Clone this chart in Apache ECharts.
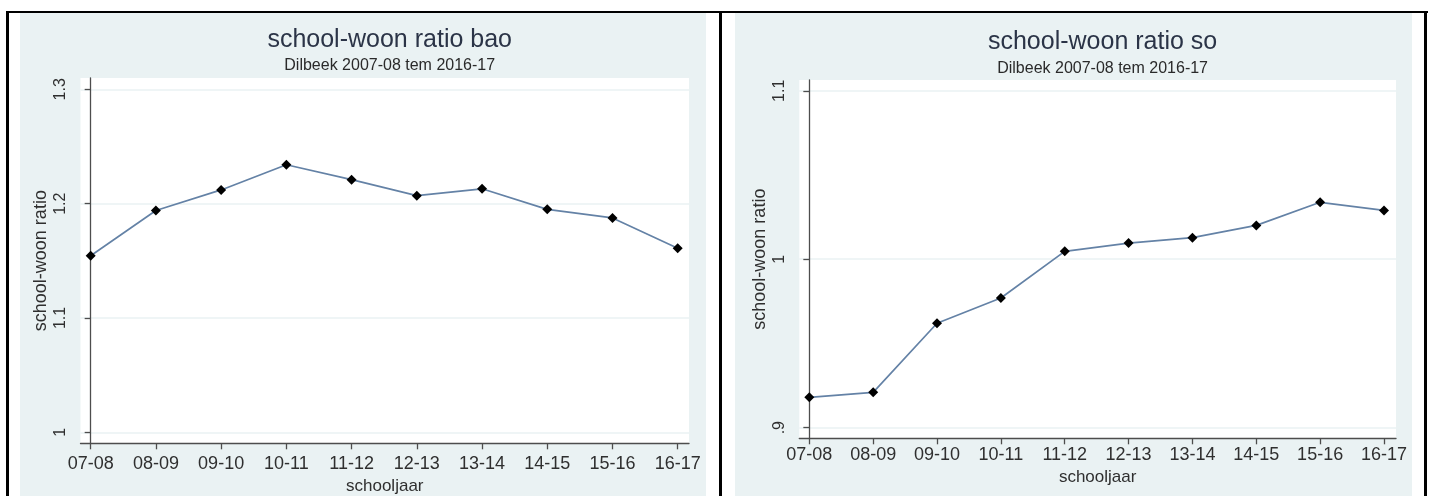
<!DOCTYPE html>
<html>
<head>
<meta charset="utf-8">
<script src="https://cdn.jsdelivr.net/npm/echarts@6/dist/echarts.min.js"></script>
<style>
html,body{margin:0;padding:0;background:#fff;}
#chart{width:1432px;height:496px;}
</style>
</head>
<body>
<div id="chart"></div>
<script>
// ---- data ----
const categories = ['07-08','08-09','09-10','10-11','11-12','12-13','13-14','14-15','15-16','16-17'];
const baoValues = [1.1545, 1.194, 1.212, 1.234, 1.221, 1.207, 1.213, 1.195, 1.1875, 1.161];
const soValues  = [0.918, 0.921, 0.962, 0.977, 1.0047, 1.0096, 1.0128, 1.0201, 1.0338, 1.029];
const baoTicks = [1, 1.1, 1.2, 1.3];
const baoTickLabels = ['1', '1.1', '1.2', '1.3'];
const soTicks = [0.9, 1, 1.1];
const soTickLabels = ['.9', '1', '1.1'];
const catIndex = categories.map((c, i) => i);

const FONT = '"Liberation Sans", Arial, sans-serif';
const PANEL_BG = '#eaf2f3';
const AXIS_COL = '#4d4d4d';
const TEXT_COL = '#2f2f2f';
const LINE_COL = '#6482a6';

function tickLabel(ticks, labels) {
  return v => {
    const k = ticks.findIndex(t => Math.abs(t - v) < 1e-6);
    return k >= 0 ? labels[k] : '';
  };
}

function xAxis(gridIndex, min, max, margin, nameGap) {
  return {
    type: 'value', gridIndex, min, max,
    name: 'schooljaar', nameLocation: 'middle', nameGap,
    nameTextStyle: { fontFamily: FONT, fontSize: 17, color: TEXT_COL },
    axisLine: { show: true, lineStyle: { color: AXIS_COL, width: 1.3 } },
    axisTick: { show: true, length: 6, customValues: catIndex, lineStyle: { color: AXIS_COL, width: 1.3 } },
    axisLabel: { customValues: catIndex, margin, fontFamily: FONT, fontSize: 18, color: TEXT_COL,
                 formatter: v => categories[Math.round(v)] },
    splitLine: { show: false }
  };
}

function yAxis(gridIndex, min, max, ticks, labels) {
  return {
    type: 'value', gridIndex, min, max,
    name: 'school-woon ratio', nameLocation: 'middle', nameGap: 30,
    nameTextStyle: { fontFamily: FONT, fontSize: 18, color: TEXT_COL },
    axisLine: { show: true, lineStyle: { color: AXIS_COL, width: 1.3 } },
    axisTick: { show: true, length: 6, customValues: ticks, lineStyle: { color: AXIS_COL, width: 1.3 } },
    axisLabel: { customValues: ticks, rotate: 90, margin: 12, fontFamily: FONT, fontSize: 16, color: TEXT_COL,
                 formatter: tickLabel(ticks, labels) },
    splitLine: { show: true, lineStyle: { color: PANEL_BG, width: 1.5 } }
  };
}

function series(idx, values) {
  return {
    type: 'line', xAxisIndex: idx, yAxisIndex: idx,
    data: values.map((v, i) => [catIndex[i], v]),
    symbol: 'diamond', symbolSize: 10,
    itemStyle: { color: '#000' },
    lineStyle: { color: LINE_COL, width: 1.7 },
    silent: true
  };
}

const chart = echarts.init(document.getElementById('chart'), null, { renderer: 'canvas' });
chart.setOption({
  animation: false,
  backgroundColor: '#ffffff',
  graphic: [
    { type: 'rect', z: -10, shape: { x: 20, y: 12, width: 686, height: 484 }, style: { fill: PANEL_BG } },
    { type: 'rect', z: -10, shape: { x: 735, y: 12, width: 677, height: 484 }, style: { fill: PANEL_BG } },
    { type: 'rect', z: -9, shape: { x: 6, y: 11, width: 1422, height: 2 }, style: { fill: '#000' } },
    { type: 'rect', z: -9, shape: { x: 6, y: 11, width: 3, height: 485 }, style: { fill: '#000' } },
    { type: 'rect', z: -9, shape: { x: 719, y: 11, width: 3, height: 485 }, style: { fill: '#000' } },
    { type: 'rect', z: -9, shape: { x: 1424, y: 11, width: 3, height: 485 }, style: { fill: '#000' } }
  ],
  title: [
    { text: 'school-woon ratio bao', subtext: 'Dilbeek 2007-08 tem 2016-17',
      left: 384.7, top: 22.5, textAlign: 'center', itemGap: 5,
      textStyle: { fontFamily: FONT, fontSize: 25, fontWeight: 'normal', color: '#2b3447' },
      subtextStyle: { fontFamily: FONT, fontSize: 16, color: '#2a2a2a' } },
    { text: 'school-woon ratio so', subtext: 'Dilbeek 2007-08 tem 2016-17',
      left: 1097.6, top: 24.5, textAlign: 'center', itemGap: 6,
      textStyle: { fontFamily: FONT, fontSize: 25, fontWeight: 'normal', color: '#2b3447' },
      subtextStyle: { fontFamily: FONT, fontSize: 16, color: '#2a2a2a' } }
  ],
  grid: [
    { left: 80.5, top: 78, width: 608.5, height: 365.3, show: true, backgroundColor: '#ffffff', borderWidth: 0,
      containLabel: false, outerBoundsMode: 'none' },
    { left: 799.3, top: 80, width: 596.7, height: 358.3, show: true, backgroundColor: '#ffffff', borderWidth: 0,
      containLabel: false, outerBoundsMode: 'none' }
  ],
  xAxis: [
    xAxis(0, -0.156, 9.173, 12, 31),
    xAxis(1, -0.157, 9.188, 8, 25)
  ],
  yAxis: [
    yAxis(0, 0.9904, 1.3099, baoTicks, baoTickLabels),
    yAxis(1, 0.8937, 1.1064, soTicks, soTickLabels)
  ],
  series: [series(0, baoValues), series(1, soValues)]
});
</script>
</body>
</html>
